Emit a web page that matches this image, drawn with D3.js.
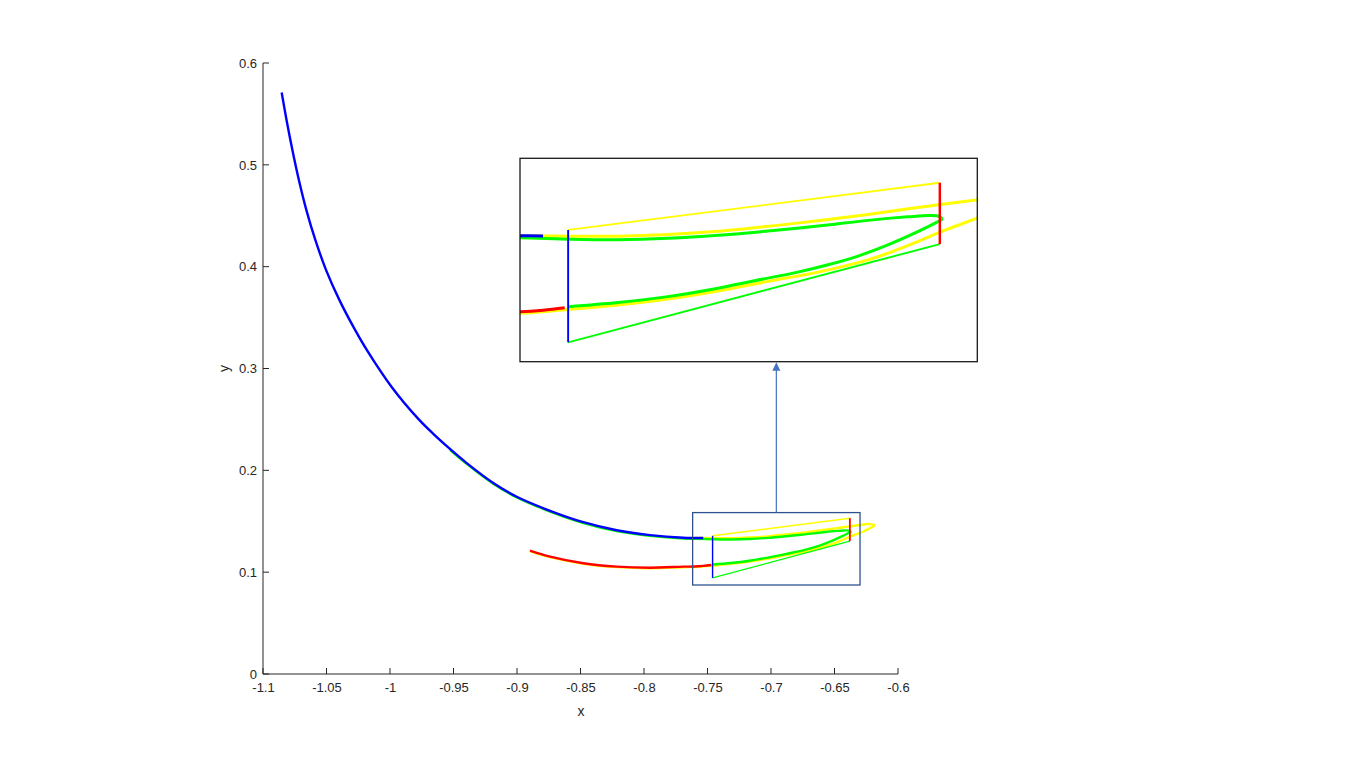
<!DOCTYPE html>
<html>
<head>
<meta charset="utf-8">
<script src="https://cdn.jsdelivr.net/npm/d3@7/dist/d3.min.js"></script>
<style>
  html, body { margin: 0; padding: 0; background: #ffffff; }
  svg { display: block; }
  text { font-family: "Liberation Sans", Arial, Helvetica, sans-serif; }
</style>
</head>
<body>
<svg id="chart" width="1356" height="763"></svg>
<script>
// ---------------- DATA ----------------
const xTicks = [-1.1, -1.05, -1, -0.95, -0.9, -0.85, -0.8, -0.75, -0.7, -0.65, -0.6];
const yTicks = [0, 0.1, 0.2, 0.3, 0.4, 0.5, 0.6];
const xTickLabels = ["-1.1", "-1.05", "-1", "-0.95", "-0.9", "-0.85", "-0.8", "-0.75", "-0.7", "-0.65", "-0.6"];
const yTickLabels = ["0", "0.1", "0.2", "0.3", "0.4", "0.5", "0.6"];

// blue trajectory [x, y]
const blueCurve = [
  [-1.0853, 0.5710], [-1.0815, 0.5442], [-1.0769, 0.5147], [-1.0718, 0.4853], [-1.0659, 0.4558],
  [-1.0588, 0.4263], [-1.0504, 0.3969], [-1.0399, 0.3674], [-1.0275, 0.3379], [-1.0183, 0.3183],
  [-0.9984, 0.2814], [-0.9777, 0.2505], [-0.9659, 0.2358], [-0.9528, 0.2210], [-0.9396, 0.2071],
  [-0.9187, 0.1876], [-0.9002, 0.1741], [-0.8740, 0.1603], [-0.8478, 0.1491], [-0.8215, 0.1412],
  [-0.7953, 0.1364], [-0.7691, 0.1338], [-0.7600, 0.1336], [-0.7533, 0.1335]
];

// red trajectory
const redCurve = [
  [-0.8898, 0.1211], [-0.8740, 0.1152], [-0.8478, 0.1087], [-0.8215, 0.1054], [-0.7953, 0.1044],
  [-0.7691, 0.1054], [-0.7600, 0.1056], [-0.7533, 0.1062], [-0.7470, 0.1071]
];

// green trajectory
const greenCurve = [
  [-0.9528, 0.2202], [-0.9396, 0.2063], [-0.9187, 0.1868], [-0.9002, 0.1733], [-0.8740, 0.1595],
  [-0.8478, 0.1483], [-0.8215, 0.1404], [-0.7953, 0.1356], [-0.7691, 0.1330], [-0.7598, 0.1328],
  [-0.7460, 0.1323], [-0.7315, 0.1321], [-0.7170, 0.1326], [-0.7024, 0.1337], [-0.6879, 0.1353],
  [-0.6733, 0.1371], [-0.6588, 0.1392], [-0.6472, 0.1405], [-0.6408, 0.1410], [-0.6381, 0.1407],
  [-0.6373, 0.1397], [-0.6390, 0.1384], [-0.6451, 0.1346], [-0.6530, 0.1302], [-0.6617, 0.1261],
  [-0.6704, 0.1229], [-0.6792, 0.1202], [-0.6879, 0.1180], [-0.7024, 0.1143], [-0.7170, 0.1112],
  [-0.7315, 0.1090], [-0.7460, 0.1075]
];

// yellow trajectory
const yellowCurve = [
  [-0.7600, 0.1336], [-0.7527, 0.1335], [-0.7460, 0.1334], [-0.7315, 0.1334], [-0.7170, 0.1340],
  [-0.7024, 0.1352], [-0.6879, 0.1370], [-0.6733, 0.1391], [-0.6588, 0.1414], [-0.6443, 0.1439],
  [-0.6379, 0.1450], [-0.6268, 0.1468], [-0.6247, 0.1472], [-0.6215, 0.1472], [-0.6192, 0.1465],
  [-0.6187, 0.1457], [-0.6197, 0.1448], [-0.6220, 0.1432], [-0.6247, 0.1416], [-0.6268, 0.1402],
  [-0.6379, 0.1349], [-0.6451, 0.1310], [-0.6515, 0.1278], [-0.6588, 0.1247], [-0.6733, 0.1202],
  [-0.6879, 0.1168], [-0.7024, 0.1133], [-0.7170, 0.1103], [-0.7315, 0.1081], [-0.7460, 0.1065],
  [-0.7598, 0.1051], [-0.7691, 0.1049], [-0.7953, 0.1039], [-0.8215, 0.1049], [-0.8478, 0.1082],
  [-0.8740, 0.1147], [-0.8895, 0.1205]
];

// thin boundary lines
const blueSegment = [[-0.7460, 0.1357], [-0.7460, 0.0944]];
const redSegment = [[-0.6379, 0.1530], [-0.6379, 0.1305]];
const yellowSegment = [[-0.7460, 0.1357], [-0.6379, 0.1530]];
const greenSegment = [[-0.7460, 0.0944], [-0.6379, 0.1305]];

// zoom box in main axes (data units) and the inset's data window
const zoomBox = { x0: -0.7617, x1: -0.6299, y0: 0.0874, y1: 0.1585 };
const insetWindow = { x0: -0.7600, x1: -0.6270, y0: 0.0873, y1: 0.1620 };

// ---------------- LAYOUT ----------------
const svg = d3.select("#chart");
const M = { left: 263, right: 898, top: 63, bottom: 674 };
const I = { left: 520, right: 977.3, top: 158.3, bottom: 361.7 };
const axisColor = "#262626";

const x = d3.scaleLinear().domain([-1.1, -0.6]).range([M.left, M.right]);
const y = d3.scaleLinear().domain([0, 0.6]).range([M.bottom, M.top]);

const ix = d3.scaleLinear().domain([insetWindow.x0, insetWindow.x1]).range([I.left, I.right]);
const iy = d3.scaleLinear().domain([insetWindow.y0, insetWindow.y1]).range([I.bottom, I.top]);

// ---------------- AXES ----------------
const xAxis = d3.axisBottom(x).tickValues(xTicks).tickSize(0).tickPadding(9)
  .tickFormat((d, i) => xTickLabels[i]);
const yAxis = d3.axisLeft(y).tickValues(yTicks).tickSize(0).tickPadding(6)
  .tickFormat((d, i) => yTickLabels[i]);

const gx = svg.append("g").attr("transform", `translate(0,${M.bottom})`).call(xAxis);
gx.select(".domain").remove();
gx.selectAll("text").attr("fill", axisColor).style("font-size", "13px");

const gy = svg.append("g").attr("transform", `translate(${M.left},0)`).call(yAxis);
gy.select(".domain").remove();
gy.selectAll("text").attr("fill", axisColor).style("font-size", "13px");

// axis lines
svg.append("line").attr("x1", M.left).attr("x2", M.right).attr("y1", M.bottom).attr("y2", M.bottom)
  .attr("stroke", axisColor).attr("stroke-width", 1);
svg.append("line").attr("x1", M.left).attr("x2", M.left).attr("y1", M.top).attr("y2", M.bottom)
  .attr("stroke", axisColor).attr("stroke-width", 1);

// inward ticks
svg.append("g").selectAll("line").data(xTicks).join("line")
  .attr("x1", d => x(d)).attr("x2", d => x(d))
  .attr("y1", M.bottom).attr("y2", M.bottom - 6)
  .attr("stroke", axisColor).attr("stroke-width", 1);
svg.append("g").selectAll("line").data(yTicks).join("line")
  .attr("x1", M.left).attr("x2", M.left + 6)
  .attr("y1", d => y(d)).attr("y2", d => y(d))
  .attr("stroke", axisColor).attr("stroke-width", 1);

svg.append("text").attr("x", (M.left + M.right) / 2 + 0.5).attr("y", 716)
  .attr("text-anchor", "middle").attr("fill", axisColor).style("font-size", "14px").text("x");
svg.append("text").attr("transform", `translate(229,${(M.top + M.bottom) / 2}) rotate(-90)`)
  .attr("text-anchor", "middle").attr("fill", axisColor).style("font-size", "14px").text("y");

// ---------------- DRAW CURVES ----------------
function drawSet(g, sx, sy, wThick, wThin) {
  const line = d3.line().x(d => sx(d[0])).y(d => sy(d[1])).curve(d3.curveCatmullRom.alpha(0.5));
  const seg = d3.line().x(d => sx(d[0])).y(d => sy(d[1]));
  g.append("path").attr("d", line(yellowCurve)).attr("fill", "none")
    .attr("stroke", "#ffff00").attr("stroke-width", wThick).attr("stroke-linejoin", "round");
  g.append("path").attr("d", line(greenCurve)).attr("fill", "none")
    .attr("stroke", "#00ff00").attr("stroke-width", wThick).attr("stroke-linejoin", "round");
  g.append("path").attr("d", line(redCurve)).attr("fill", "none")
    .attr("stroke", "#ff0000").attr("stroke-width", wThick).attr("stroke-linejoin", "round");
  g.append("path").attr("d", line(blueCurve)).attr("fill", "none")
    .attr("stroke", "#0000ff").attr("stroke-width", wThick).attr("stroke-linejoin", "round");
  g.append("path").attr("d", seg(yellowSegment)).attr("fill", "none")
    .attr("stroke", "#ffff00").attr("stroke-width", wThin);
  g.append("path").attr("d", seg(greenSegment)).attr("fill", "none")
    .attr("stroke", "#00ff00").attr("stroke-width", wThin);
  g.append("path").attr("d", seg(blueSegment)).attr("fill", "none")
    .attr("stroke", "#0000ff").attr("stroke-width", wThin);
  g.append("path").attr("d", seg(redSegment)).attr("fill", "none")
    .attr("stroke", "#ff0000").attr("stroke-width", wThin * 1.3);
}

const mainG = svg.append("g");
drawSet(mainG, x, y, 2.4, 1.4);

// zoom box
svg.append("rect")
  .attr("x", x(zoomBox.x0)).attr("y", y(zoomBox.y1))
  .attr("width", x(zoomBox.x1) - x(zoomBox.x0)).attr("height", y(zoomBox.y0) - y(zoomBox.y1))
  .attr("fill", "none").attr("stroke", "#2f528f").attr("stroke-width", 1.3);

// arrow
const ax = x((zoomBox.x0 + zoomBox.x1) / 2);
svg.append("line").attr("x1", ax).attr("x2", ax).attr("y1", y(zoomBox.y1)).attr("y2", I.bottom + 7)
  .attr("stroke", "#4472c4").attr("stroke-width", 1.2);
svg.append("path")
  .attr("d", `M${ax},${I.bottom + 0.5} L${ax - 4},${I.bottom + 9} L${ax + 4},${I.bottom + 9} Z`)
  .attr("fill", "#4472c4");

// inset
svg.append("defs").append("clipPath").attr("id", "insetClip").append("rect")
  .attr("x", I.left).attr("y", I.top).attr("width", I.right - I.left).attr("height", I.bottom - I.top);
svg.append("rect").attr("x", I.left).attr("y", I.top)
  .attr("width", I.right - I.left).attr("height", I.bottom - I.top).attr("fill", "#ffffff");
const insetG = svg.append("g").attr("clip-path", "url(#insetClip)");
drawSet(insetG, ix, iy, 3, 1.9);
svg.append("rect").attr("x", I.left).attr("y", I.top)
  .attr("width", I.right - I.left).attr("height", I.bottom - I.top)
  .attr("fill", "none").attr("stroke", "#1a1a1a").attr("stroke-width", 1.3);
</script>
</body>
</html>
